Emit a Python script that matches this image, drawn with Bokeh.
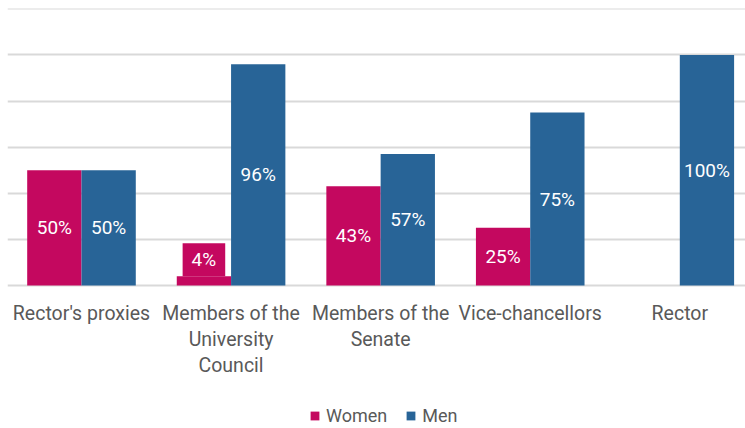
from bokeh.plotting import figure
from bokeh.models import (ColumnDataSource, Range1d, FixedTicker,
                          Legend, LegendItem)
from bokeh.core.properties import value
from bokeh.transform import dodge
from bokeh.embed import file_html
from bokeh.resources import INLINE

categories = ["Rector's proxies", "Members of the\nUniversity\nCouncil",
              "Members of the\nSenate", "Vice-chancellors", "Rector"]
women = [50, 4, 43, 25, 0]
men = [50, 96, 57, 75, 100]
series_names = ["Women", "Men"]
grid_values = [0, 20, 40, 60, 80, 100, 120]

PINK = "#C4085F"
BLUE = "#286497"
GREY = "#595959"
FONT = "Roboto"

xs = [i + 0.5 for i in range(len(categories))]

src = ColumnDataSource(dict(x=xs, women=women, men=men))
cat_src = ColumnDataSource(dict(x=xs, y=[0] * len(xs), t=categories))

p = figure(width=745, height=428, output_backend="svg", toolbar_location=None,
           x_range=Range1d(0.00535, 4.9392), y_range=Range1d(-62.02, 120.13),
           x_axis_location=None, y_axis_location=None,
           min_border_left=7, min_border_right=0, min_border_top=8,
           min_border_bottom=0)
p.outline_line_color = None
p.xgrid.visible = False
p.ygrid.ticker = FixedTicker(ticks=grid_values)
p.ygrid.grid_line_color = "#D9D9D9"
p.ygrid.grid_line_width = 2

bw = 0.363
rw = p.vbar(x=dodge("x", -bw / 2), top="women", width=bw, source=src,
            fill_color=PINK, line_color=None)
rm = p.vbar(x=dodge("x", bw / 2), top="men", width=bw, source=src,
            fill_color=BLUE, line_color=None)

big_w = ColumnDataSource(dict(
    x=[x for x, v in zip(xs, women) if v >= 10],
    y=[v / 2 for v in women if v >= 10],
    t=[f"{v}%" for v in women if v >= 10]))
big_m = ColumnDataSource(dict(
    x=[x for x, v in zip(xs, men) if v >= 10],
    y=[v / 2 for v in men if v >= 10],
    t=[f"{v}%" for v in men if v >= 10]))
small_w = ColumnDataSource(dict(
    x=[x for x, v in zip(xs, women) if 0 < v < 10],
    y=[v for v in women if 0 < v < 10],
    t=[f"{v}%" for v in women if 0 < v < 10]))

for s, off in ((big_w, -bw / 2), (big_m, bw / 2)):
    p.text(x=dodge("x", off), y="y", text="t", source=s,
           text_align="center", text_baseline="middle",
           text_color="white", text_font=value(FONT),
           text_font_size="19px")
p.text(x=dodge("x", -bw / 2), y="y", text="t", source=small_w,
       text_align="center", text_baseline="bottom",
       text_color="white", text_font=value(FONT),
       text_font_size="19px", background_fill_color=PINK,
       padding=dict(left=9, right=9, top=5, bottom=5))

# category labels under the baseline
p.text(x="x", y="y", text="t", source=cat_src, y_offset=17,
       text_align="center", text_baseline="top",
       text_color=GREY, text_font=value(FONT), text_font_size="19.5px",
       text_line_height=1.11)

legend = Legend(items=[LegendItem(label=series_names[0], renderers=[rw]),
                       LegendItem(label=series_names[1], renderers=[rm])],
                orientation="horizontal", location=(302, 2),
                glyph_width=11, glyph_height=11, label_standoff=6, spacing=18,
                label_text_font=FONT, label_text_font_size="18px",
                label_text_color=GREY, border_line_color=None,
                background_fill_alpha=0, padding=0, margin=0)
p.add_layout(legend, "center")

open("out.html", "w").write(file_html(p, INLINE))
